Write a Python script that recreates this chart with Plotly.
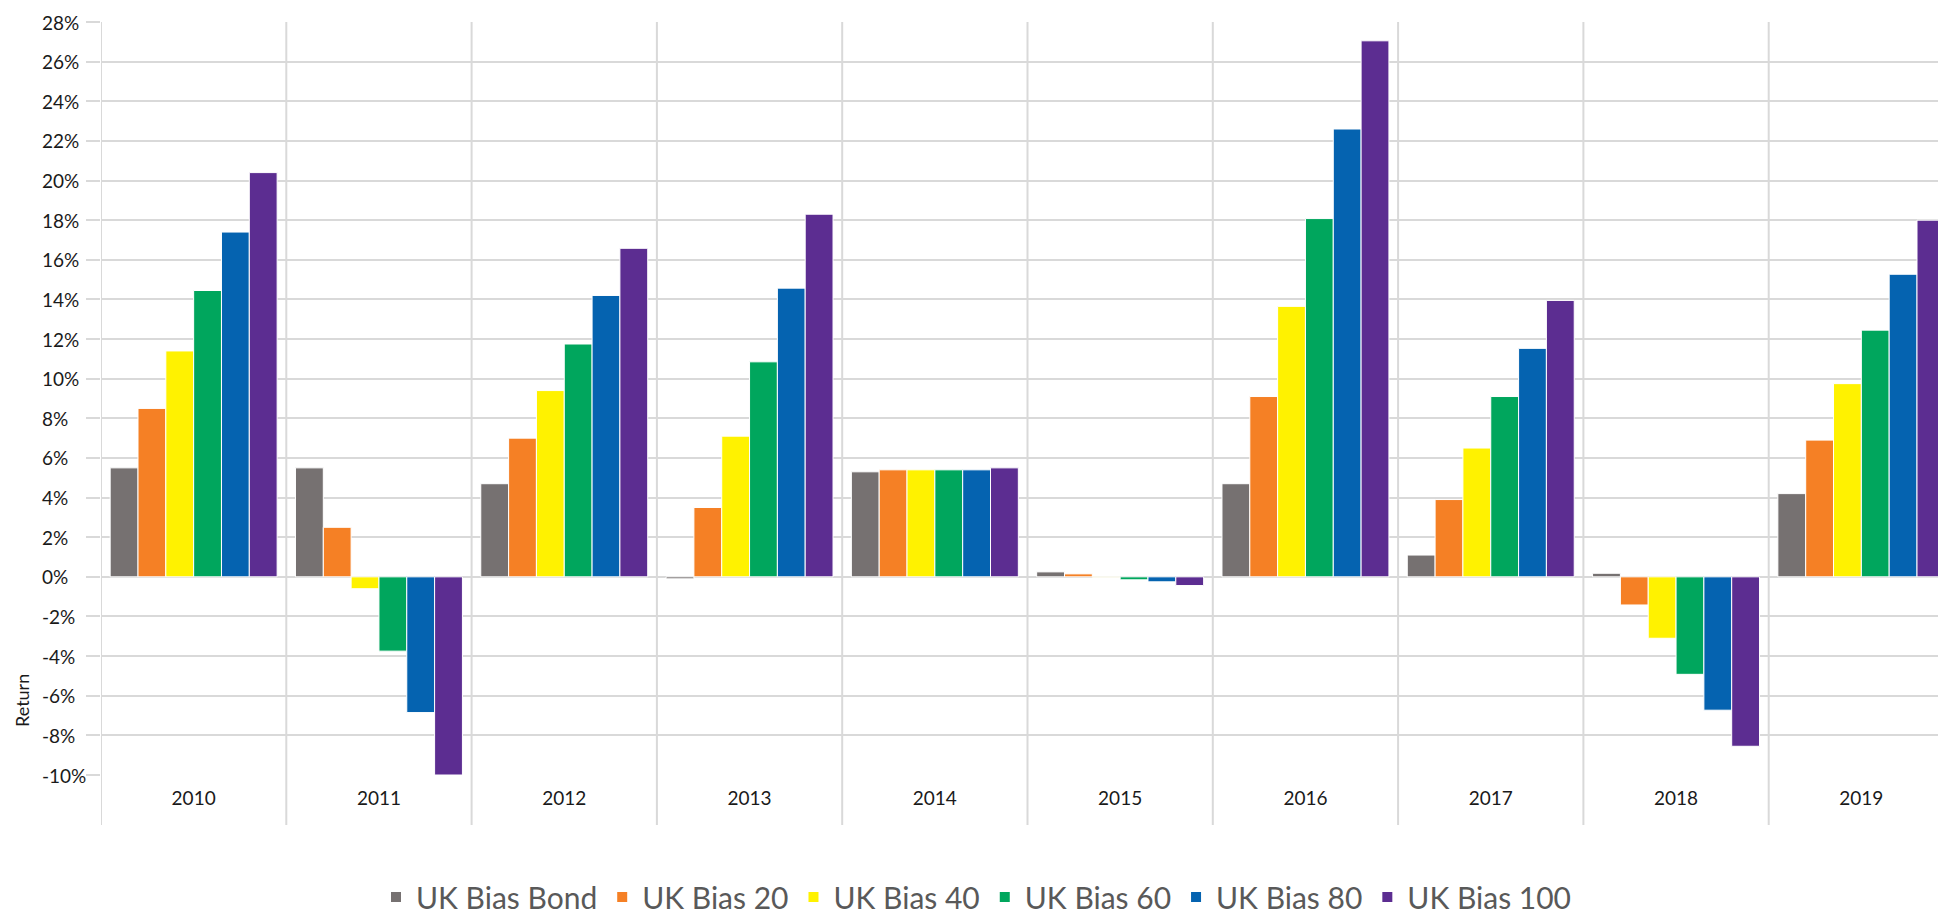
import plotly.graph_objects as go

# Annual returns (%) per portfolio
years = [2010, 2011, 2012, 2013, 2014, 2015, 2016, 2017, 2018, 2019]
year_labels = [str(y) for y in years]

uk_bias_bond = [5.5, 5.5, 4.7, -0.1, 5.3, 0.25, 4.7, 1.1, 0.18, 4.2]
uk_bias_20 = [8.5, 2.5, 7.0, 3.5, 5.4, 0.15, 9.1, 3.9, -1.42, 6.9]
uk_bias_40 = [11.4, -0.6, 9.4, 7.1, 5.4, -0.02, 13.65, 6.5, -3.1, 9.75]
uk_bias_60 = [14.45, -3.75, 11.75, 10.85, 5.4, -0.15, 18.08, 9.1, -4.92, 12.45]
uk_bias_80 = [17.4, -6.85, 14.2, 14.57, 5.4, -0.25, 22.6, 11.53, -6.73, 15.27]
uk_bias_100 = [20.4, -10.0, 16.58, 18.3, 5.5, -0.44, 27.05, 13.95, -8.55, 18.0]

series_names = ["UK Bias Bond", "UK Bias 20", "UK Bias 40",
                "UK Bias 60", "UK Bias 80", "UK Bias 100"]
series_values = [uk_bias_bond, uk_bias_20, uk_bias_40,
                 uk_bias_60, uk_bias_80, uk_bias_100]
series_colors = ["#767171", "#F58025", "#FFF200", "#00A65D", "#0563B0", "#5C2D91"]

y_ticks = list(range(-10, 30, 2))

GRID = "#d9d9d9"
TEXT = "#1a1a1a"
FONT = "Lato"

W, H = 1938, 916
ML, MT, MB = 101, 22, 141
plot_w = W - ML
plot_h = H - MT - MB

fig = go.Figure()
for name, vals, col in zip(series_names, series_values, series_colors):
    fig.add_trace(go.Bar(
        x=years, y=vals, name=name,
        marker=dict(color=col, line=dict(color="white", width=1)),
    ))

# category separators that run from the top gridline down past the axis
for y in years:
    fig.add_shape(type="line", xref="x", yref="paper",
                  x0=y - 0.5, x1=y - 0.5, y0=1, y1=-50 / plot_h,
                  line=dict(color=GRID, width=2), layer="below")

# left-aligned y tick labels
for v in y_ticks:
    fig.add_annotation(xref="paper", yref="y", x=(40 - ML) / plot_w, y=v,
                       text=f"{v}%", showarrow=False, xanchor="left",
                       yanchor="middle",
                       font=dict(family=FONT, size=19, color=TEXT))

# axis title
fig.add_annotation(xref="paper", yref="paper", x=(22 - ML) / plot_w,
                   y=(775 - 701) / plot_h, text="Return", textangle=-90,
                   showarrow=False, xanchor="center", yanchor="middle",
                   font=dict(family=FONT, size=18, color=TEXT))

fig.update_layout(
    width=W, height=H,
    margin=dict(l=ML, r=0, t=MT, b=MB, pad=0, autoexpand=False),
    paper_bgcolor="white", plot_bgcolor="white",
    barmode="group", bargap=0.099, bargroupgap=0,
    showlegend=True,
    legend=dict(orientation="h", x=(376 - ML) / plot_w, xanchor="left",
                y=(775 - 897) / plot_h, yanchor="middle",
                font=dict(family=FONT, size=30, color="#595959"),
                itemsizing="constant", traceorder="normal",
                tracegroupgap=0),
    xaxis=dict(range=[years[0] - 0.5, years[0] - 0.5 + plot_w / 185.3],
               tickmode="array", tickvals=years, ticktext=year_labels,
               showgrid=False, zeroline=False, showline=False,
               ticks="outside", ticklen=6, tickcolor="rgba(0,0,0,0)",
               tickfont=dict(family=FONT, size=19, color=TEXT)),
    yaxis=dict(range=[-10, 28], tickmode="array", tickvals=y_ticks,
               showticklabels=False, showgrid=True, gridcolor=GRID,
               gridwidth=1.5, zeroline=False, showline=False,
               ticks="outside", ticklen=14, tickcolor=GRID, tickwidth=1.5),
)

fig.write_html("out.html")
